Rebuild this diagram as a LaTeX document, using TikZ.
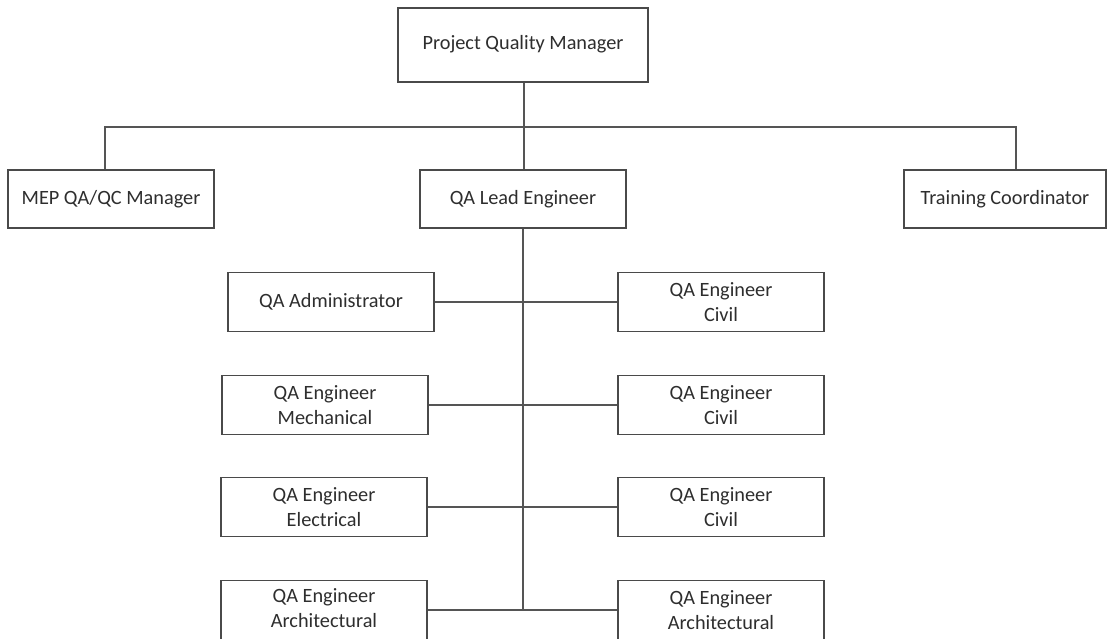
\documentclass[tikz,border=0pt]{standalone}
\usepackage{fontspec}
\setmainfont{Carlito}
\definecolor{boxgray}{HTML}{4A4A4A}
\definecolor{linegray}{HTML}{555555}
\definecolor{txtgray}{HTML}{2E2E2E}
\begin{document}
\begin{tikzpicture}[x=1pt,y=-1pt,
  box/.style={draw=boxgray, line width=1.2pt, fill=white, text=txtgray,
    inner sep=0pt, align=center,
    font=\fontsize{20.3}{24.5}\selectfont,
    minimum width=206pt, minimum height=59pt},
  link/.style={draw=linegray, line width=1.3pt}]
  % page frame
  \fill[white] (0,0) rectangle (1108,639);
  \useasboundingbox (0,0) rectangle (1108,639);

  % bus coordinates
  \coordinate (busL) at (105,127);
  \coordinate (busR) at (1016,127);
  \coordinate (busM) at (524,127);

  % top level
  \node[box, minimum width=250pt, minimum height=74pt] (pqm) at (523,45) {\raisebox{6pt}{Project Quality Manager}};
  \node[box, minimum height=58pt] (mep) at (111,199) {MEP QA/QC Manager};
  \node[box, minimum height=58pt] (lead) at (523,199) {QA Lead Engineer};
  \node[box, minimum width=202pt, minimum height=58pt] (train) at (1005,199) {Training Coordinator};

  % QA team rows
  \node[box] (adm)   at (331,302) {QA Administrator};
  \node[box] (civA)  at (721,302) {QA Engineer\\Civil};
  \node[box] (mech)  at (325,405) {QA Engineer\\Mechanical};
  \node[box] (civB)  at (721,405) {QA Engineer\\Civil};
  \node[box] (elec)  at (324,507) {QA Engineer\\Electrical};
  \node[box] (civC)  at (721,507) {QA Engineer\\Civil};
  \node[box] (archA) at (324,610) {\raisebox{10pt}{\begin{tabular}{@{}c@{}}QA Engineer\\Architectural\end{tabular}}};
  \node[box] (archB) at (721,610) {QA Engineer\\Architectural};

  % bus to the first level
  \draw[link] (pqm.south -| busM) -- (busM);
  \draw[link] (busL |- mep.north) -- (busL) -- (busR) -- (busR |- train.north);
  \draw[link] (busM) -- (busM |- lead.north);

  % spine and rows
  \draw[link] (lead.south) -- (lead.south |- archA.east);
  \draw[link] (adm.east) -- (civA.west);
  \draw[link] (mech.east) -- (civB.west);
  \draw[link] (elec.east) -- (civC.west);
  \draw[link] (archA.east) -- (archB.west);
\end{tikzpicture}
\end{document}
